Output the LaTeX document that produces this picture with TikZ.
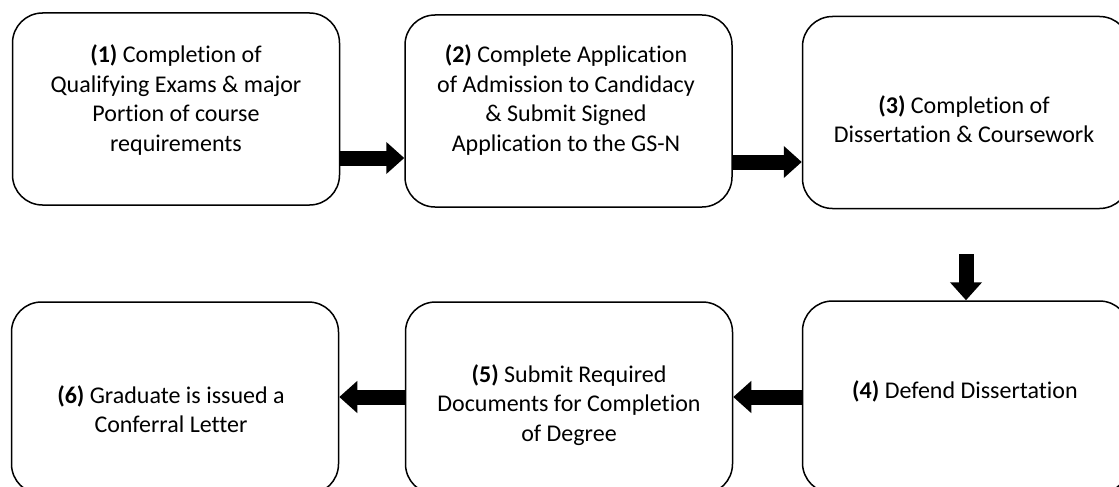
\documentclass[tikz,border=0pt]{standalone}
\usepackage{fontspec}
\setmainfont{Carlito}[Ligatures=NoCommon]
\usetikzlibrary{arrows.meta}
\begin{document}
\begin{tikzpicture}[x=1pt,y=-1pt,
  box/.style={draw=black, line width=1.5pt, rounded corners=30pt, minimum width=327pt, minimum height=192pt, inner sep=0pt},
  txt/.style={align=center, inner sep=0pt, font=\fontsize{24}{29.5}\selectfont},
  blockarrow/.style={line width=15pt, -{Triangle[length=18pt,width=31pt]}}]
\useasboundingbox (0,0) rectangle (1119,487);
\clip (0,0) rectangle (1119,487);
\node[box] (b1) at (176,109) {};
\node[box] (b2) at (568.5,111) {};
\node[box] (b3) at (966,112.5) {};
\node[box] (b4) at (966,397) {};
\node[box] (b5) at (569,398) {};
\node[box] (b6) at (175,398) {};
\node[txt] (t1) at (176,100) {\textbf{(1)} Completion of\\Qualifying Exams \& major\\Portion of course\\requirements};
\node[txt] (t2) at (566,100) {\textbf{(2)} Complete Application\\of Admission to Candidacy\\\& Submit Signed\\Application to the GS-N};
\node[txt] (t3) at (964,119) {\textbf{(3)} Completion of\\Dissertation \& Coursework};
\node[txt] (t4) at (965,391) {\textbf{(4)} Defend Dissertation};
\node[txt] (t5) at (569,405) {\textbf{(5)} Submit Required\\Documents for Completion\\of Degree};
\node[txt] (t6) at (171,409) {\textbf{(6)} Graduate is issued a\\Conferral Letter};
\coordinate (r1) at (0,158);
\coordinate (r2) at (0,162);
\coordinate (r3) at (0,397);
\draw[blockarrow] (b1.east |- r1) -- (b2.west |- r1);
\draw[blockarrow] (b2.east |- r2) -- (b3.west |- r2);
\draw[blockarrow] ([yshift=-45pt]b3.south) -- (b4.north);
\draw[blockarrow] (b4.west |- r3) -- (b5.east |- r3);
\draw[blockarrow] (b5.west |- r3) -- (b6.east |- r3);
\end{tikzpicture}
\end{document}
